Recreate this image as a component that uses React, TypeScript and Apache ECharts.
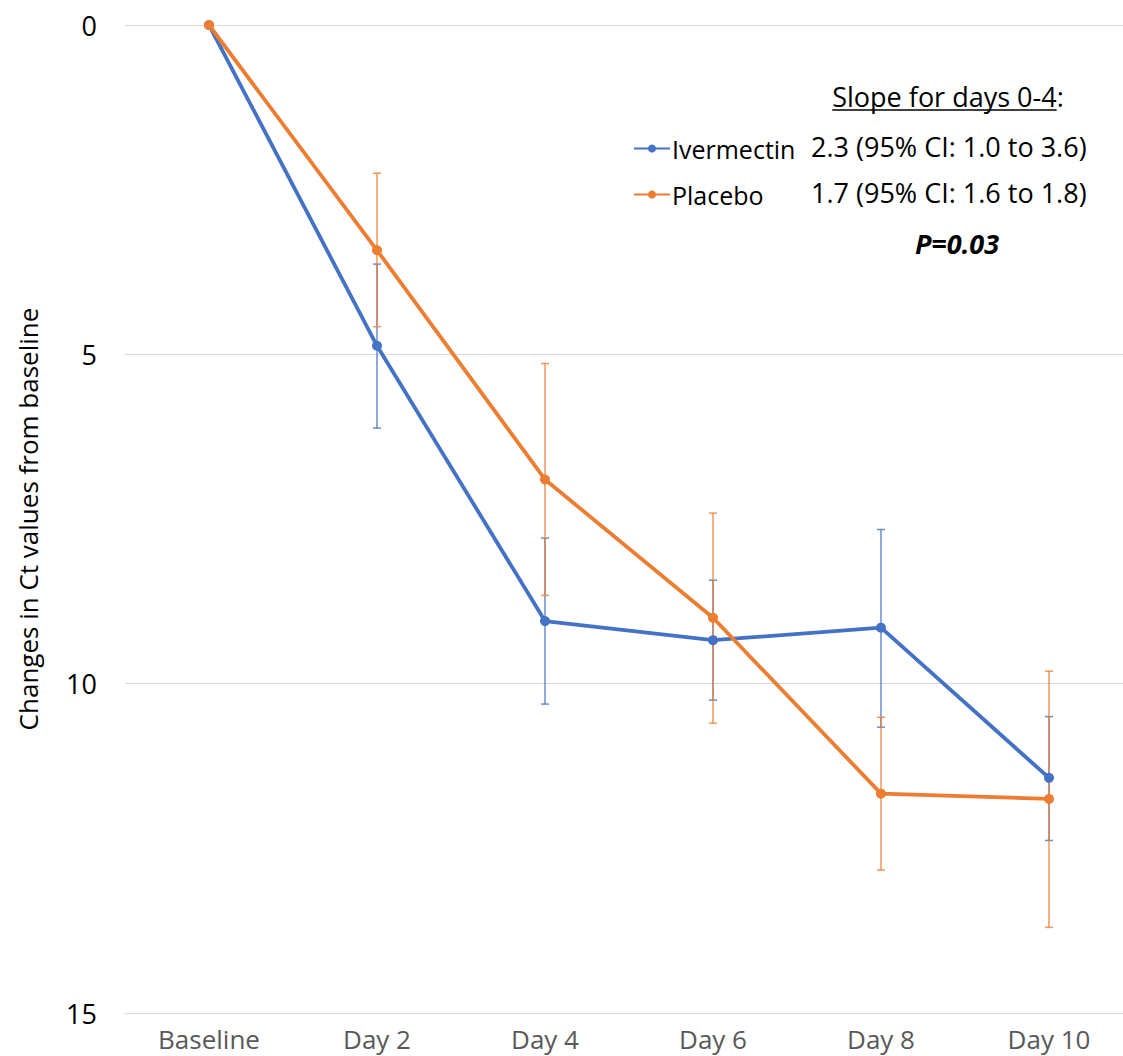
import React, { useEffect, useRef } from "react";
import * as echarts from "echarts";

const categories = ["Baseline", "Day 2", "Day 4", "Day 6", "Day 8", "Day 10"];
const ivermectin = [0, 4.87, 9.05, 9.34, 9.15, 11.43];
const ivermectinLow = [0, 3.63, 7.79, 8.43, 7.66, 10.5];
const ivermectinHigh = [0, 6.12, 10.31, 10.25, 10.66, 12.38];
const placebo = [0, 3.42, 6.9, 9.0, 11.67, 11.75];
const placeboLow = [0, 2.25, 5.14, 7.41, 10.51, 9.81];
const placeboHigh = [0, 4.58, 8.66, 10.6, 12.83, 13.7];
const yTicks = { min: 0, max: 15, interval: 5 };

const BLUE = "#4472C4";
const ORANGE = "#ED7D31";
const FONT = "Open Sans";

function errData(low: number[], high: number[]) {
  return low.map((l, i) => [i, l, high[i]]).filter((d, i) => i > 0);
}

function errSeries(name: string, low: number[], high: number[], color: string) {
  return {
    type: "custom",
    name: name + "-err",
    z: 1,
    silent: true,
    data: errData(low, high),
    renderItem: (params: any, api: any) => {
      const x = api.value(0);
      const top = api.coord([x, api.value(1)]);
      const bot = api.coord([x, api.value(2)]);
      const hw = 4;
      const style = { stroke: color, lineWidth: 1.5, opacity: 0.8 };
      return {
        type: "group",
        children: [
          { type: "line", shape: { x1: top[0], y1: top[1], x2: bot[0], y2: bot[1] }, style },
          { type: "line", shape: { x1: top[0] - hw, y1: top[1], x2: top[0] + hw, y2: top[1] }, style },
          { type: "line", shape: { x1: bot[0] - hw, y1: bot[1], x2: bot[0] + hw, y2: bot[1] }, style },
        ],
      };
    },
  };
}

function measure(text: string, font: string) {
  const c = document.createElement("canvas").getContext("2d");
  if (!c) return text.length * 12;
  c.font = font;
  return c.measureText(text).width;
}

export default function App() {
  const ref = useRef<HTMLDivElement>(null);
  useEffect(() => {
    if (!ref.current) return;
    const chart = echarts.init(ref.current, undefined, { renderer: "svg" });
    const annSize = 27;
    const slopeText = "Slope for days 0-4";
    const slopeW = measure(slopeText, `${annSize}px "${FONT}"`);
    const colonW = measure(":", `${annSize}px "${FONT}"`);
    const slopeLeft = 948 - (slopeW + colonW) / 2;
    chart.setOption({
      animation: false,
      textStyle: { fontFamily: FONT },
      grid: { left: 125, top: 25, width: 1008, height: 988 },
      legend: {
        orient: "vertical",
        left: 628,
        top: 131,
        itemWidth: 36,
        itemHeight: 10,
        itemGap: 21,
        data: ["Ivermectin", "Placebo"],
        textStyle: { fontSize: 25, color: "#000", fontFamily: FONT, padding: [0, 0, 0, -3] },
      },
      xAxis: {
        type: "category",
        data: categories,
        boundaryGap: true,
        axisLine: { show: true, onZero: false, lineStyle: { color: "#d9d9d9", width: 1 } },
        axisTick: { show: false },
        axisLabel: { fontSize: 26, color: "#595959", margin: 13, fontFamily: FONT },
      },
      yAxis: {
        type: "value",
        inverse: true,
        min: yTicks.min,
        max: yTicks.max,
        interval: yTicks.interval,
        name: "Changes in Ct values from baseline",
        nameLocation: "middle",
        nameGap: 84,
        nameTextStyle: { fontSize: 26, color: "#000", fontFamily: FONT },
        axisLine: { show: false },
        axisTick: { show: false },
        axisLabel: { fontSize: 27, color: "#000", margin: 28, fontFamily: FONT },
        splitLine: { lineStyle: { color: "#d9d9d9", width: 1 } },
      },
      series: [
        errSeries("Ivermectin", ivermectinLow, ivermectinHigh, BLUE),
        errSeries("Placebo", placeboLow, placeboHigh, ORANGE),
        {
          type: "line",
          name: "Ivermectin",
          data: ivermectin,
          z: 3,
          symbol: "circle",
          symbolSize: 10,
          lineStyle: { color: BLUE, width: 3.8 },
          itemStyle: { color: BLUE },
        },
        {
          type: "line",
          name: "Placebo",
          data: placebo,
          z: 4,
          symbol: "circle",
          symbolSize: 10,
          lineStyle: { color: ORANGE, width: 3.8 },
          itemStyle: { color: ORANGE },
        },
      ],
      graphic: [
        {
          type: "text",
          x: slopeLeft,
          y: 96,
          style: {
            text: slopeText + ":",
            fontSize: annSize,
            fontFamily: FONT,
            fill: "#000",
            verticalAlign: "middle",
          },
        },
        {
          type: "line",
          shape: { x1: slopeLeft, y1: 110, x2: slopeLeft + slopeW, y2: 110 },
          style: { stroke: "#000", lineWidth: 1.5 },
        },
        {
          type: "text",
          x: 811,
          y: 146,
          style: {
            text: "2.3 (95% CI: 1.0 to 3.6)",
            fontSize: annSize,
            fontFamily: FONT,
            fill: "#000",
            verticalAlign: "middle",
          },
        },
        {
          type: "text",
          x: 811,
          y: 192,
          style: {
            text: "1.7 (95% CI: 1.6 to 1.8)",
            fontSize: annSize,
            fontFamily: FONT,
            fill: "#000",
            verticalAlign: "middle",
          },
        },
        {
          type: "text",
          x: 957,
          y: 243,
          style: {
            text: "P=0.03",
            fontSize: annSize,
            fontFamily: FONT,
            fontWeight: "bold",
            fontStyle: "italic",
            fill: "#000",
            align: "center",
            verticalAlign: "middle",
          },
        },
      ],
    });
    return () => chart.dispose();
  }, []);
  return (
    <div
      style={{
        position: "fixed",
        left: 0,
        top: 0,
        width: 1123,
        height: 1056,
        overflow: "hidden",
        background: "#fff",
      }}
    >
      <div ref={ref} style={{ width: 1140, height: 1056 }} />
    </div>
  );
}
